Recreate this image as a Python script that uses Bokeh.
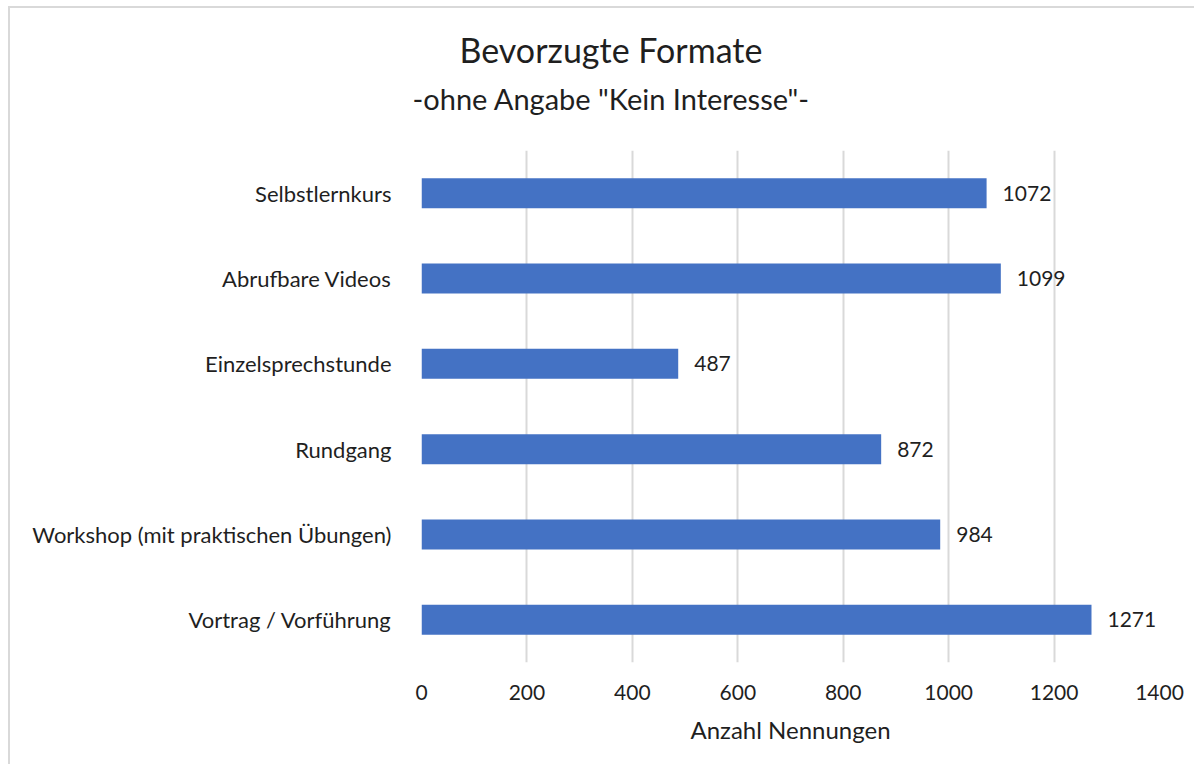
from bokeh.plotting import figure
from bokeh.models import ColumnDataSource, FixedTicker, Range1d, Title
from bokeh.core.properties import value
from bokeh.embed import file_html
from bokeh.resources import INLINE

categories = ["Vortrag / Vorführung", "Workshop (mit praktischen Übungen)", "Rundgang",
              "Einzelsprechstunde", "Abrufbare Videos", "Selbstlernkurs"]
counts = [1271, 984, 872, 487, 1099, 1072]
x_ticks = [0, 200, 400, 600, 800, 1000, 1200, 1400]
title_text = "Bevorzugte Formate"
subtitle_text = '-ohne Angabe "Kein Interesse"-'
x_label = "Anzahl Nennungen"

FONT = "Lato"
TXT = "#1f1f1f"

src = ColumnDataSource(dict(cat=categories, n=counts, lbl=[str(v) for v in counts]))

p = figure(y_range=categories, x_range=Range1d(0, 1400), width=1186, height=758,
           output_backend="svg", toolbar_location=None,
           min_border_left=411, min_border_right=37, min_border_top=142, min_border_bottom=104)
p.styles = {"margin-left": "8px", "margin-top": "6px",
            "border-left": "2px solid #d9d9d9", "border-top": "2px solid #d9d9d9"}

p.hbar(y="cat", right="n", left=0, height=0.352, source=src, color="#4472C4", line_color=None)
p.text(x="n", y="cat", text="lbl", source=src, x_offset=16, text_baseline="middle",
       text_align="left", text_font=value(FONT), text_font_size="21px", text_color=TXT)

p.outline_line_color = None
p.ygrid.grid_line_color = None
p.xgrid.grid_line_color = "#d9d9d9"
p.xgrid.grid_line_width = 2
p.xaxis.ticker = FixedTicker(ticks=x_ticks)

for ax in (p.xaxis, p.yaxis):
    ax.axis_line_color = None
    ax.major_tick_line_color = None
    ax.minor_tick_line_color = None
    ax.major_label_text_font = FONT
    ax.major_label_text_color = TXT
p.yaxis.major_label_text_font_size = "22px"
p.xaxis.major_label_text_font_size = "21px"
p.yaxis.major_label_standoff = 24
p.xaxis.major_label_standoff = 16
p.xaxis.axis_label = x_label
p.xaxis.axis_label_text_font = FONT
p.xaxis.axis_label_text_font_size = "24px"
p.xaxis.axis_label_text_font_style = "normal"
p.xaxis.axis_label_text_color = TXT
p.xaxis.axis_label_standoff = 12

spacer = Title(text=" ", text_font=FONT, text_font_size="2px", standoff=29)
sub = Title(text=subtitle_text, align="left", offset=-9, text_font=FONT,
            text_font_size="29px", text_font_style="normal", text_color=TXT, standoff=4)
main = Title(text=title_text, align="left", offset=38, text_font=FONT,
             text_font_size="34px", text_font_style="normal", text_color=TXT, standoff=14)
p.add_layout(spacer, "above")
p.add_layout(sub, "above")
p.add_layout(main, "above")

open("out.html", "w").write(file_html(p, INLINE))
